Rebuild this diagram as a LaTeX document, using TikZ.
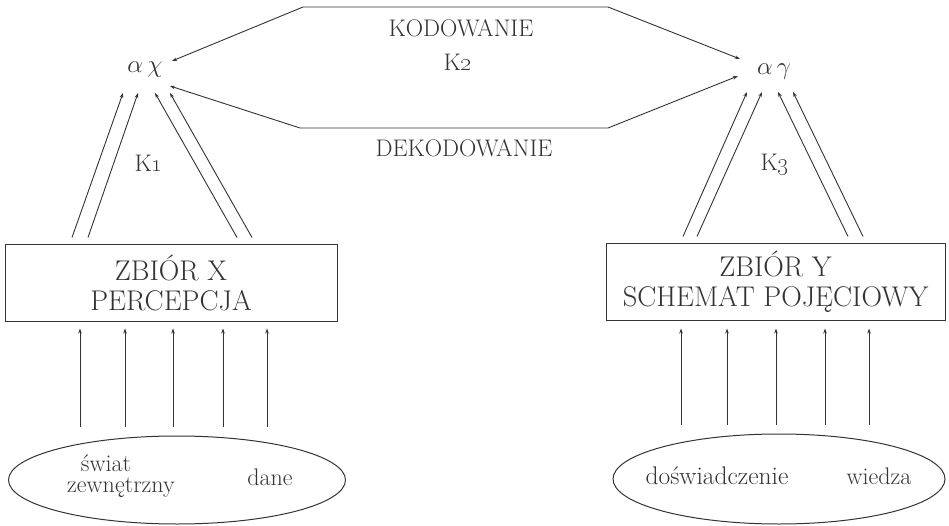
\documentclass[tikz,border=0pt]{standalone}
\usetikzlibrary{shapes.geometric,arrows.meta}
\definecolor{ink}{HTML}{333333}
\begin{document}
\begin{tikzpicture}[x=1pt,y=-1pt,
  ln/.style={draw=ink, line width=0.9pt},
  arr/.style={ln, -{Stealth[length=5pt,width=3.5pt]}},
  darr/.style={ln, {Stealth[length=5pt,width=3.5pt]}-{Stealth[length=5pt,width=3.5pt]}},
  box/.style={draw=ink, line width=1pt, text=ink, align=center, inner sep=0pt,
    font=\fontsize{28.5}{30}\selectfont},
  ell/.style={ellipse, draw=ink, line width=1pt, inner sep=0pt},
  lab/.style={text=ink, inner sep=0pt, font=\fontsize{24}{28}\selectfont},
  elab/.style={text=ink, inner sep=0pt, font=\fontsize{24}{28}\selectfont},
  sym/.style={text=ink, inner sep=0pt, font=\fontsize{26}{30}\selectfont}]
\useasboundingbox (0,0) rectangle (949,526);

% boxes
\node[box, minimum width=332pt, minimum height=76pt] (bx) at (171,283) {ZBIÓR X\\PERCEPCJA};
\node[box, minimum width=339pt, minimum height=77pt] (by) at (775.5,282) {ZBIÓR Y\\SCHEMAT POJĘCIOWY};

% ellipses
\node[ell, minimum width=337pt, minimum height=88pt] (ex) at (177,480) {};
\node[ell, minimum width=332pt, minimum height=90pt] (ey) at (779,479) {};

\node[elab] (t1) at (106,463) {świat};
\node[elab] (t2) at (121,488) {zewnętrzny};
\node[elab] (t3) at (270,477) {dane};
\node[elab, font=\fontsize{25.5}{28}\selectfont] (t4) at (717,476) {doświadczenie};
\node[elab] (t5) at (879,476) {wiedza};

% alpha nodes
\node[sym] (ax) at (145,70) {$\alpha\,\chi$};
\node[sym] (ay) at (774,72) {$\alpha\,\gamma$};

% labels
\node[lab] (kod) at (461,28) {KODOWANIE};
\node[lab] (k2) at (458,62) {K\oldstylenums{2}};
\node[lab] (dek) at (464,148) {DEKODOWANIE};
\node[lab] (k1) at (149,163) {K\oldstylenums{1}};
\node[lab] (k3) at (775,165) {K\oldstylenums{3}};

% hexagon connectors
\coordinate (u1) at (303,7);
\coordinate (u2) at (608,7);
\coordinate (d1) at (300,128);
\coordinate (d2) at (608,128);
\draw[darr] ([shift={(27,-9)}]ax.center) -- (u1) -- (u2) -- ([shift={(-34,-13)}]ay.center);
\draw[darr] ([shift={(25,16)}]ax.center) -- (d1) -- (d2) -- ([shift={(-36,4)}]ay.center);

% box X -> alpha chi
\draw[arr] ([shift={(-99,-7)}]bx.north) -- ([shift={(-22,23)}]ax.center);
\draw[arr] ([shift={(-83,-7)}]bx.north) -- ([shift={(-7,23)}]ax.center);
\draw[arr] ([shift={(66,-7)}]bx.north) -- ([shift={(10,23)}]ax.center);
\draw[arr] ([shift={(81,-7)}]bx.north) -- ([shift={(25,23)}]ax.center);

% box Y -> alpha gamma
\draw[arr] ([shift={(-92.5,-6.5)}]by.north) -- ([shift={(-27,20)}]ay.center);
\draw[arr] ([shift={(-78.5,-6.5)}]by.north) -- ([shift={(-12,20)}]ay.center);
\draw[arr] ([shift={(72.5,-6.5)}]by.north) -- ([shift={(4,20)}]ay.center);
\draw[arr] ([shift={(87.5,-6.5)}]by.north) -- ([shift={(19,20)}]ay.center);

% ellipse X -> box X
\foreach \x in {80,125,173,223,267}{
  \draw[arr] ([shift={(\x-177,-9)}]ex.north) -- ([shift={(\x-171,7)}]bx.south);
}
% ellipse Y -> box Y
\foreach \x in {681,727,776,825,869}{
  \draw[arr] ([shift={(\x-779,-9)}]ey.north) -- ([shift={(\x-775.5,7.5)}]by.south);
}
\end{tikzpicture}
\end{document}
